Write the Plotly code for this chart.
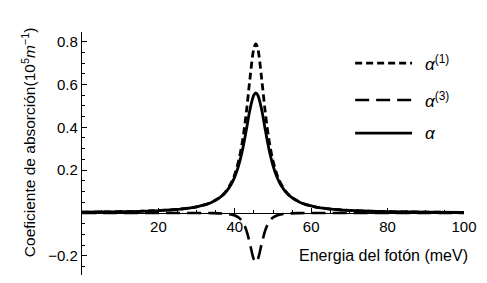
import plotly.graph_objects as go

# photon energy (meV)
energy = [0, 5, 10, 15, 20, 25, 30, 34, 37, 39, 40, 41, 42, 43, 44, 45, 45.5,
          46, 47, 48, 49, 50, 51, 52, 54, 57, 61, 66, 72, 80, 90, 100]
# linear absorption alpha^(1)
alpha1 = [0.0034, 0.0043, 0.0056, 0.0076, 0.0108, 0.0166, 0.0286, 0.0504, 0.0875,
          0.1387, 0.1811, 0.2431, 0.3346, 0.4662, 0.632, 0.7687, 0.79,
          0.7687, 0.632, 0.4662, 0.3346, 0.2431, 0.1811, 0.1387, 0.0875, 0.0504,
          0.0286, 0.0166, 0.010, 0.0059, 0.0036, 0.0024]
# third-order absorption alpha^(3)
alpha3 = [0.0, 0.0, 0.0, 0.0, 0.0, -0.0001, -0.0003, -0.0009, -0.0028,
          -0.0071, -0.0121, -0.0218, -0.0413, -0.0801, -0.1472, -0.2178, -0.23,
          -0.2178, -0.1472, -0.0801, -0.0413, -0.0218, -0.0121, -0.0071, -0.0028, -0.0009,
          -0.0003, -0.0001, 0.0, 0.0, 0.0, 0.0]
# total absorption alpha
alpha_tot = [0.0034, 0.0043, 0.0056, 0.0076, 0.0108, 0.0165, 0.0283, 0.0495, 0.0847,
             0.1316, 0.169, 0.2213, 0.2933, 0.3861, 0.4848, 0.5509, 0.56,
             0.5509, 0.4848, 0.3861, 0.2933, 0.2213, 0.169, 0.1316, 0.0847, 0.0495,
             0.0283, 0.0165, 0.010, 0.0059, 0.0036, 0.0024]

xticks = [20, 40, 60, 80, 100]
yticks = [-0.2, 0.2, 0.4, 0.6, 0.8]
yticklabels = ["\u22120.2", "0.2", "0.4", "0.6", "0.8"]

YMIN, YMAX = -0.29, 0.845
FONT = "Liberation Sans, Arial, sans-serif"

fig = go.Figure()
fig.add_trace(go.Scatter(x=energy, y=alpha3, mode="lines", line_shape="spline",
                         line=dict(color="black", width=2.6, dash="14px,7px")))
fig.add_trace(go.Scatter(x=energy, y=alpha1, mode="lines", line_shape="spline",
                         line=dict(color="black", width=2.8, dash="7px,4px")))
fig.add_trace(go.Scatter(x=energy, y=alpha_tot, mode="lines", line_shape="spline",
                         line=dict(color="black", width=2.8)))

fig.update_layout(
    width=479, height=275,
    margin=dict(l=74, r=23, t=24, b=8),
    paper_bgcolor="white", plot_bgcolor="white",
    showlegend=False,
    font=dict(family=FONT, size=15, color="black"),
    xaxis=dict(range=[0, 100], anchor="free", position=(0 - YMIN) / (YMAX - YMIN),
               showgrid=False, zeroline=False, showline=True, linecolor="black", linewidth=1.3,
               tickvals=xticks, ticks="inside", ticklen=5, tickwidth=1, tickcolor="black",
               minor=dict(dtick=5, ticks="inside", ticklen=3, tickcolor="black", showgrid=False),
               tickfont=dict(size=15)),
    yaxis=dict(range=[YMIN, YMAX], showgrid=False, zeroline=False, showline=True,
               linecolor="black", linewidth=1.3,
               tickvals=yticks, ticktext=yticklabels, ticks="inside", ticklen=5,
               tickwidth=1, tickcolor="black",
               minor=dict(dtick=0.05, ticks="inside", ticklen=3, tickcolor="black", showgrid=False),
               tickfont=dict(size=15)),
)

# axis titles
fig.add_annotation(text="Coeficiente de absorción(10<sup>5</sup><i>m</i><sup>\u22121</sup>)",
                   xref="paper", yref="paper", x=-0.17, y=0.547, textangle=-90,
                   showarrow=False, font=dict(size=15.5))
fig.add_annotation(text="Energia del fotón (meV)", xref="paper", yref="paper",
                   x=1.016, y=0.082, xanchor="right", yanchor="middle",
                   showarrow=False, font=dict(size=16))

# legend drawn manually
legend_items = [("<i>α</i><sup>(1)</sup>", "7px,4px", 0.872),
                ("<i>α</i><sup>(3)</sup>", "14px,7px", 0.720),
                ("<i>α</i>", "solid", 0.584)]
for label, dash, yy in legend_items:
    fig.add_shape(type="line", xref="paper", yref="paper", x0=0.715, x1=0.864, y0=yy, y1=yy,
                  line=dict(color="black", width=2.6, dash=dash))
    fig.add_annotation(text=label, xref="paper", yref="paper", x=0.893, y=yy,
                       xanchor="left", yanchor="middle", showarrow=False,
                       font=dict(size=17))

fig.write_html("out.html")
